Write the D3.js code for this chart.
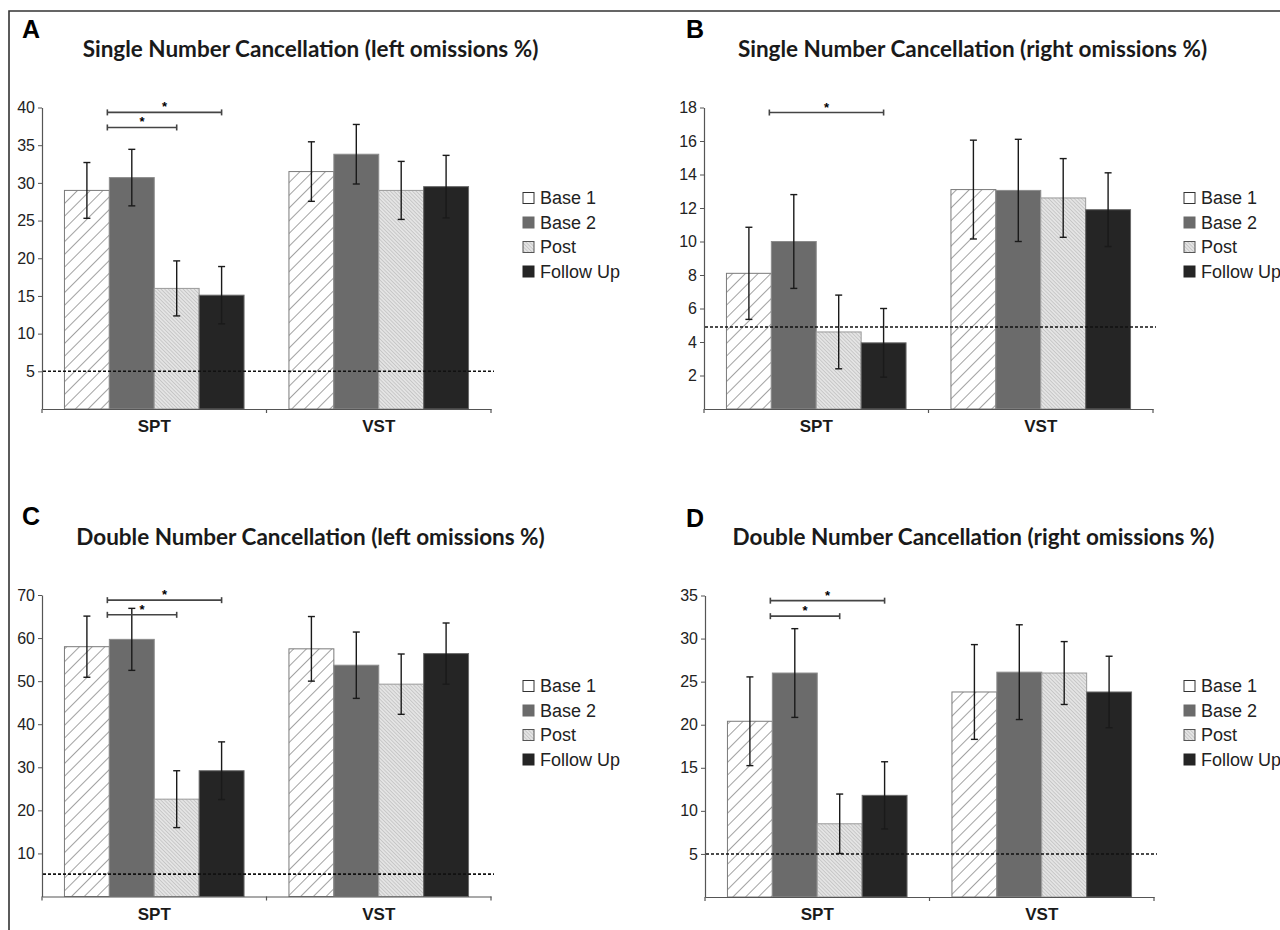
<!DOCTYPE html>
<html>
<head>
<meta charset="utf-8">
<script src="https://cdn.jsdelivr.net/npm/d3@7"></script>
<style>
  body { margin: 0; background: #fff; }
  .tick text, .legend text { font-family: "Liberation Sans", Arial, sans-serif; }
</style>
</head>
<body>
<svg id="fig" width="1280" height="930"></svg>
<script>
const categories = ["SPT", "VST"];
const series = ["Base 1", "Base 2", "Post", "Follow Up"];

// A: single number cancellation, left omissions
const singleLeftMean = [[29.0, 30.7, 16.0, 15.1], [31.5, 33.8, 29.0, 29.5]];
const singleLeftErr = [[3.7, 3.75, 3.65, 3.8], [3.95, 3.95, 3.85, 4.15]];
const singleLeftTicks = [5, 10, 15, 20, 25, 30, 35, 40];
const singleLeftCutoff = 5;
const singleLeftSig = [[3, 39.35], [2, 37.35]]; // [target series, height]

// B: single number cancellation, right omissions
const singleRightMean = [[8.1, 10.0, 4.6, 3.95], [13.1, 13.05, 12.6, 11.9]];
const singleRightErr = [[2.75, 2.8, 2.2, 2.05], [2.95, 3.05, 2.35, 2.2]];
const singleRightTicks = [2, 4, 6, 8, 10, 12, 14, 16, 18];
const singleRightCutoff = 4.9;
const singleRightSig = [[3, 17.7]];

// C: double number cancellation, left omissions
const doubleLeftMean = [[58.0, 59.7, 22.6, 29.2], [57.5, 53.7, 49.3, 56.4]];
const doubleLeftErr = [[7.1, 7.2, 6.6, 6.7], [7.5, 7.7, 7.0, 7.1]];
const doubleLeftTicks = [10, 20, 30, 40, 50, 60, 70];
const doubleLeftCutoff = 5.2;
const doubleLeftSig = [[3, 68.8], [2, 65.4]];

// D: double number cancellation, right omissions
const doubleRightMean = [[20.4, 26.0, 8.5, 11.8], [23.8, 26.1, 26.0, 23.8]];
const doubleRightErr = [[5.15, 5.15, 3.45, 3.9], [5.5, 5.5, 3.65, 4.15]];
const doubleRightTicks = [5, 10, 15, 20, 25, 30, 35];
const doubleRightCutoff = 5;
const doubleRightSig = [[3, 34.4], [2, 32.6]];

const svg = d3.select("#fig");

// patterns
const defs = svg.append("defs");
const p1 = defs.append("pattern").attr("id", "hatchBase1")
    .attr("patternUnits", "userSpaceOnUse").attr("width", 9).attr("height", 9)
    .attr("patternTransform", "rotate(45)");
p1.append("rect").attr("width", 9).attr("height", 9).attr("fill", "#fff");
p1.append("line").attr("x1", 0).attr("y1", 0).attr("x2", 0).attr("y2", 9)
    .attr("stroke", "#555").attr("stroke-width", 1.1);

const p2 = defs.append("pattern").attr("id", "hatchPost")
    .attr("patternUnits", "userSpaceOnUse").attr("width", 2.6).attr("height", 2.6)
    .attr("patternTransform", "rotate(-45)");
p2.append("rect").attr("width", 2.6).attr("height", 2.6).attr("fill", "#e4e4e4");
p2.append("line").attr("x1", 0).attr("y1", 0).attr("x2", 0).attr("y2", 2.6)
    .attr("stroke", "#a8a8a8").attr("stroke-width", 0.9);

const fills = ["url(#hatchBase1)", "#6b6b6b", "url(#hatchPost)", "#252525"];
const strokes = ["#7a7a7a", "#8c8c8c", "#9a9a9a", "#6a6a6a"];
const legendFills = ["#fff", "#6b6b6b", "url(#hatchPost)", "#252525"];
const legendStrokes = ["#333", "#6b6b6b", "#555", "#252525"];

// figure frame
svg.append("path").attr("d", "M9,930V11H1280")
    .attr("fill", "none").attr("stroke", "#333").attr("stroke-width", 1.6);

function drawPanel(o) {
    const g = svg.append("g");
    const yMax = o.ticks[o.ticks.length - 1];
    const y = d3.scaleLinear().domain([0, yMax]).range([o.bottom, o.bottom - 301.5]);
    const x = d3.scaleBand().domain(categories).range([o.x0, o.x1]);
    const xs = d3.scaleBand().domain(series).range([0, x.bandwidth()]).paddingOuter(0.5);

    // letter and title
    g.append("text").attr("x", o.letterX).attr("y", o.letterY)
        .style("font-family", "'Liberation Sans', Arial, sans-serif")
        .style("font-weight", "bold").style("font-size", "25px").text(o.letter);
    g.append("text").attr("x", (o.x0 + o.x1) / 2 + 44).attr("y", o.titleY)
        .attr("text-anchor", "middle")
        .style("font-family", "Lato, 'Open Sans', sans-serif")
        .style("font-weight", "bold").style("font-size", "22.5px").style("fill", "#1a1a1a")
        .text(o.title);

    // bars
    categories.forEach((c, ci) => {
        g.selectAll(null).data(series).enter().append("rect")
            .attr("x", s => x(c) + xs(s))
            .attr("y", (s, si) => y(o.mean[ci][si]))
            .attr("width", xs.bandwidth())
            .attr("height", (s, si) => o.bottom - y(o.mean[ci][si]))
            .attr("fill", (s, si) => fills[si])
            .attr("stroke", (s, si) => strokes[si])
            .attr("stroke-width", 1);
    });

    // cutoff line
    g.append("line").attr("x1", o.x0 + 1).attr("x2", o.x1 + 3)
        .attr("y1", y(o.cutoff)).attr("y2", y(o.cutoff))
        .attr("stroke", "#111").attr("stroke-width", 1.6).attr("stroke-dasharray", "3,2");

    // error bars
    categories.forEach((c, ci) => {
        series.forEach((s, si) => {
            const cx = x(c) + xs(s) + xs.bandwidth() / 2;
            const lo = y(o.mean[ci][si] - o.err[ci][si]);
            const hi = y(o.mean[ci][si] + o.err[ci][si]);
            const eb = g.append("g").attr("stroke", "#1a1a1a").attr("stroke-width", 1.4);
            eb.append("line").attr("x1", cx).attr("x2", cx).attr("y1", lo).attr("y2", hi);
            eb.append("line").attr("x1", cx - 3.5).attr("x2", cx + 3.5).attr("y1", lo).attr("y2", lo);
            eb.append("line").attr("x1", cx - 3.5).attr("x2", cx + 3.5).attr("y1", hi).attr("y2", hi);
        });
    });

    // significance brackets
    o.sig.forEach(([target, level]) => {
        const xa = x("SPT") + xs("Base 2") - 2;
        const xb = x("SPT") + xs(series[target]) + xs.bandwidth() / 2;
        const yy = y(level);
        const b = g.append("g").attr("stroke", "#444").attr("stroke-width", 1.6);
        b.append("line").attr("x1", xa).attr("x2", xb).attr("y1", yy).attr("y2", yy);
        b.append("line").attr("x1", xa).attr("x2", xa).attr("y1", yy - 3).attr("y2", yy + 3);
        b.append("line").attr("x1", xb).attr("x2", xb).attr("y1", yy - 3).attr("y2", yy + 3);
        g.append("text").attr("x", (xa + xb) / 2).attr("y", yy - 1)
            .attr("text-anchor", "middle")
            .style("font-family", "'Liberation Sans', Arial, sans-serif")
            .style("font-size", "13px").style("font-weight", "bold").text("*");
    });

    // y axis
    const ya = g.append("g").attr("transform", `translate(${o.x0},0)`)
        .call(d3.axisLeft(y).tickValues(o.ticks).tickSize(4).tickSizeOuter(0).tickPadding(3));
    ya.select(".domain").attr("stroke", "#555").attr("stroke-width", 1.2);
    ya.selectAll(".tick line").attr("stroke", "#555");
    ya.selectAll(".tick text").style("font-size", "16px").style("fill", "#222");

    // x axis
    const xa = g.append("g").attr("transform", `translate(0,${o.bottom})`)
        .call(d3.axisBottom(x).tickSize(0).tickSizeOuter(0).tickPadding(11));
    xa.select(".domain").attr("stroke", "#555").attr("stroke-width", 1.2);
    xa.selectAll(".tick text")
        .style("font-family", "'Liberation Sans', Arial, sans-serif")
        .style("font-size", "17px").style("font-weight", "bold").style("fill", "#1a1a1a");
    g.selectAll(null).data([o.x0, x("VST"), o.x1]).enter().append("line")
        .attr("x1", d => d).attr("x2", d => d)
        .attr("y1", o.bottom).attr("y2", o.bottom + 4)
        .attr("stroke", "#555").attr("stroke-width", 1.2);

    // legend
    const lg = g.append("g").attr("class", "legend");
    series.forEach((s, si) => {
        const ly = o.legendY + si * 24.5;
        lg.append("rect").attr("x", o.legendX).attr("y", ly - 5.5)
            .attr("width", 11).attr("height", 11)
            .attr("fill", legendFills[si]).attr("stroke", legendStrokes[si]).attr("stroke-width", 1);
        lg.append("text").attr("x", o.legendX + 17).attr("y", ly)
            .attr("dominant-baseline", "central")
            .style("font-size", "18px").style("fill", "#222").text(s);
    });
}

drawPanel({ letter: "A", letterX: 22, letterY: 38, titleY: 57,
    title: "Single Number Cancellation (left omissions %)",
    x0: 42, x1: 491, bottom: 409, mean: singleLeftMean, err: singleLeftErr,
    ticks: singleLeftTicks, cutoff: singleLeftCutoff, sig: singleLeftSig,
    legendX: 523, legendY: 198 });

drawPanel({ letter: "B", letterX: 686, letterY: 38, titleY: 57,
    title: "Single Number Cancellation (right omissions %)",
    x0: 704, x1: 1153, bottom: 409, mean: singleRightMean, err: singleRightErr,
    ticks: singleRightTicks, cutoff: singleRightCutoff, sig: singleRightSig,
    legendX: 1184, legendY: 198 });

drawPanel({ letter: "C", letterX: 22, letterY: 525, titleY: 545,
    title: "Double Number Cancellation (left omissions %)",
    x0: 42, x1: 491, bottom: 896.5, mean: doubleLeftMean, err: doubleLeftErr,
    ticks: doubleLeftTicks, cutoff: doubleLeftCutoff, sig: doubleLeftSig,
    legendX: 523, legendY: 686 });

drawPanel({ letter: "D", letterX: 686, letterY: 527, titleY: 545,
    title: "Double Number Cancellation (right omissions %)",
    x0: 705, x1: 1154, bottom: 897, mean: doubleRightMean, err: doubleRightErr,
    ticks: doubleRightTicks, cutoff: doubleRightCutoff, sig: doubleRightSig,
    legendX: 1184, legendY: 686 });
</script>
</body>
</html>
